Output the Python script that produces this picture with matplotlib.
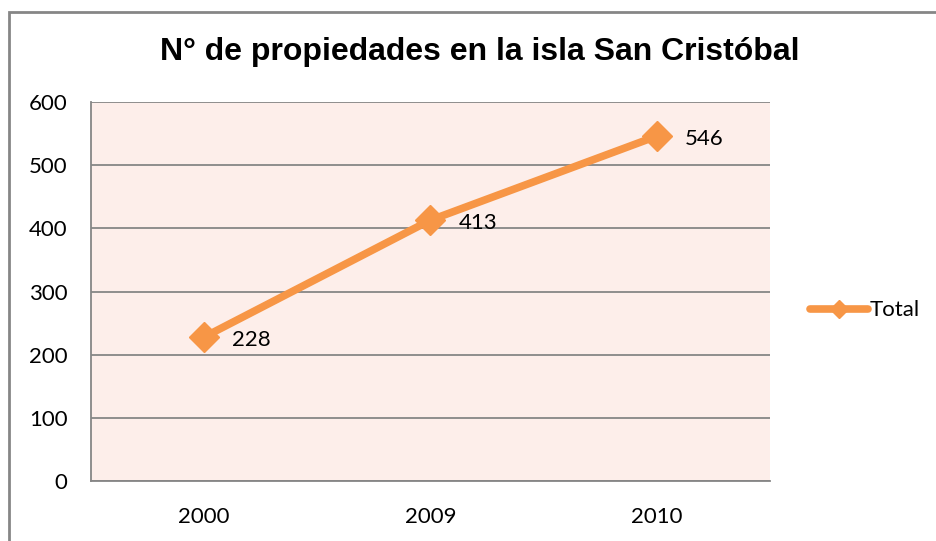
import matplotlib.pyplot as plt
from matplotlib.patches import Rectangle

years = ["2000", "2009", "2010"]
total = [228, 413, 546]
y_ticks = [0, 100, 200, 300, 400, 500, 600]

orange = "#F79646"
grid_gray = "#868686"

fig = plt.figure(figsize=(9.37, 5.41), dpi=100)
ax = fig.add_axes([91 / 937, 60 / 541, 679 / 937, 379 / 541])
ax.set_facecolor("#FDEEEA")

x = list(range(len(years)))
ax.plot(x, total, color=orange, lw=5.5, marker="D", markersize=15,
        solid_capstyle="round", label="Total", zorder=3)

for xi, v in zip(x, total):
    ax.annotate(str(v), (xi, v), xytext=(20, -2), textcoords="offset points",
                ha="left", va="center", fontsize=16, family="Lato")

ax.set_xlim(-0.5, len(years) - 0.5)
ax.set_ylim(0, 600)
ax.set_yticks(y_ticks)
ax.set_xticks(x)
ax.set_xticklabels(years)
ax.yaxis.grid(True, color=grid_gray, lw=1.3)
ax.set_axisbelow(True)
ax.tick_params(length=0, labelsize=16)
ax.tick_params(axis="y", pad=17)
ax.tick_params(axis="x", pad=19)
for lab in ax.get_xticklabels() + ax.get_yticklabels():
    lab.set_family("Lato")

for side in ["top", "right"]:
    ax.spines[side].set_visible(False)
for side in ["left", "bottom"]:
    ax.spines[side].set_color(grid_gray)
    ax.spines[side].set_linewidth(1.3)

fig.text(480 / 937, 1 - 52 / 541, "N° de propiedades en la isla San Cristóbal",
         ha="center", va="center", fontsize=23, fontweight="bold",
         family="Liberation Sans")

leg = ax.legend(loc="center left", bbox_to_anchor=(1.03, 0.45), frameon=False,
                prop={"family": "Lato", "size": 16}, handlelength=2.6,
                handletextpad=0.05, markerscale=0.6)

fig.patches.append(Rectangle((9 / 937, -0.05), 1.2, 1.05 - 12 / 541,
                             transform=fig.transFigure, fill=False,
                             edgecolor=grid_gray, lw=2))

fig.savefig("out.png", dpi=100)
